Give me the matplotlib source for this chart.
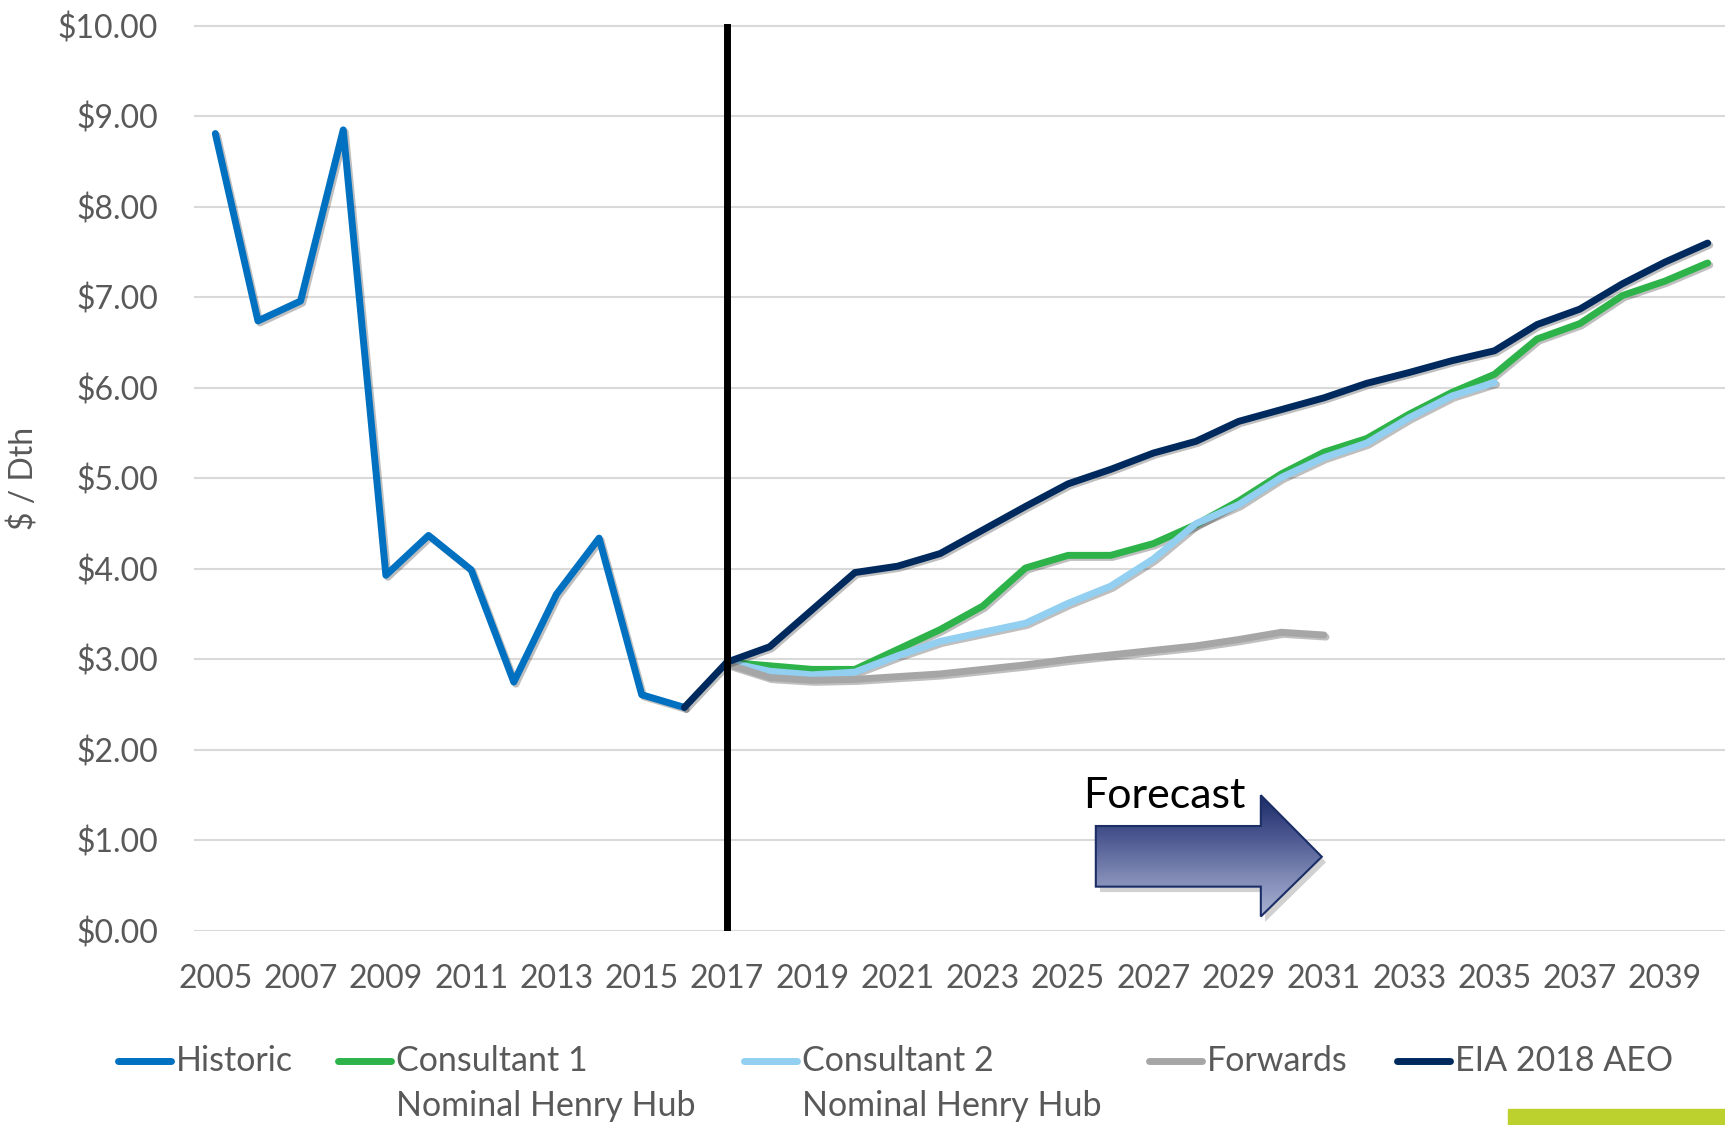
#!/usr/bin/env python
import numpy as np
import matplotlib
matplotlib.use("Agg")
import matplotlib.pyplot as plt
import matplotlib.patheffects as pe
from matplotlib.patches import Polygon, Rectangle
from matplotlib.lines import Line2D

plt.rcParams["font.family"] = ["Lato", "DejaVu Sans"]

# --- data ---
hist_years = list(range(2005, 2017))
historic = [8.81, 6.74, 6.96, 8.85, 3.93, 4.37, 3.99, 2.75, 3.72, 4.34, 2.61, 2.47]

eia_years = list(range(2016, 2041))
eia = [2.47, 2.97, 3.14, 3.55, 3.96, 4.03, 4.17, 4.43, 4.69, 4.94, 5.10, 5.28, 5.41,
       5.63, 5.76, 5.89, 6.05, 6.17, 6.30, 6.41, 6.70, 6.87, 7.15, 7.39, 7.60]

c1_years = list(range(2017, 2041))
consultant1 = [2.97, 2.93, 2.89, 2.89, 3.11, 3.33, 3.59, 4.01, 4.15, 4.15, 4.28, 4.49,
               4.75, 5.05, 5.29, 5.44, 5.71, 5.95, 6.15, 6.54, 6.71, 7.02, 7.18, 7.38]

c2_years = list(range(2017, 2036))
consultant2 = [2.97, 2.87, 2.83, 2.86, 3.04, 3.20, 3.30, 3.40, 3.62, 3.81, 4.11, 4.50,
               4.71, 5.01, 5.23, 5.39, 5.67, 5.91, 6.06]

fwd_years = list(range(2017, 2032))
forwards = [2.95, 2.80, 2.77, 2.78, 2.81, 2.84, 2.89, 2.94, 3.00, 3.05, 3.10, 3.15,
            3.22, 3.30, 3.27]

series = [
    ("Historic", hist_years, historic, "#0070C0"),
    ("Consultant 1\nNominal Henry Hub", c1_years, consultant1, "#2DB34A"),
    ("Consultant 2\nNominal Henry Hub", c2_years, consultant2, "#92CFF0"),
    ("Forwards", fwd_years, forwards, "#A6A6A6"),
    ("EIA 2018 AEO", eia_years, eia, "#002A5E"),
]

yticks = np.arange(0, 11, 1)
xticks = list(range(2005, 2040, 2))
txtcol = "#595959"

W, H = 1725, 1125
fig = plt.figure(figsize=(W / 100, H / 100), dpi=100)
ax = fig.add_axes([194 / W, (H - 931) / H, 1535 / W, 907 / H])

shadow = [pe.SimpleLineShadow(offset=(1.5, -1.5), alpha=0.25, shadow_color="k"), pe.Normal()]
for label, xs, ys, col in series:
    ax.plot(xs, ys, color=col, lw=5, solid_capstyle="round", solid_joinstyle="round",
            path_effects=shadow, zorder=3)

ax.axvline(2017, color="black", lw=5, zorder=4)

ax.set_xlim(2004.5, 2040.5)
ax.set_ylim(0, 10.02)
ax.set_yticks(yticks)
ax.set_yticklabels([f"${v:.2f}" for v in yticks])
ax.set_xticks(xticks)
ax.tick_params(axis="y", length=0, pad=26, labelsize=23, labelcolor=txtcol)
ax.tick_params(axis="x", length=0, pad=24, labelsize=23, labelcolor=txtcol)
ax.grid(axis="y", color="#D9D9D9", lw=1.5, zorder=0)
for s in ax.spines.values():
    s.set_visible(False)
fig.text(24 / W, 1 - 478 / H, "$ / Dth", fontsize=23, color=txtcol, rotation=90,
         ha="center", va="center")

# forecast arrow with gradient fill
arrow = [(2025.65, 1.16), (2029.52, 1.16), (2029.52, 1.50), (2030.95, 0.82),
         (2029.52, 0.16), (2029.52, 0.49), (2025.65, 0.49)]
shadow_pts = [(x + 0.1, y - 0.06) for x, y in arrow]
ax.add_patch(Polygon(shadow_pts, closed=True, facecolor="k", alpha=0.18, edgecolor="none", zorder=5))
poly = Polygon(arrow, closed=True, facecolor="none", edgecolor="#1B2E66", lw=1.5, zorder=7)
ax.add_patch(poly)
grad = np.linspace(0, 1, 256).reshape(-1, 1)
cmap = matplotlib.colors.LinearSegmentedColormap.from_list("arr", ["#AAB3D4", "#7F89B4", "#4A5690", "#1C2B66"])
im = ax.imshow(grad, extent=(2025.65, 2030.95, 1.50, 0.16), cmap=cmap, aspect="auto", zorder=6,
               origin="upper")
im.set_clip_path(poly)
ax.set_xlim(2004.5, 2040.5)
ax.set_ylim(0, 10.02)
ax.text(2025.35, 1.36, "Forecast", fontsize=31, color="black", ha="left", va="baseline", zorder=8)

# legend, drawn by hand so the handle sits on the first text line
leg_x = [118, 338, 744, 1149, 1397]
for (label, xs, ys, col), lx in zip(series, leg_x):
    y1 = 1 - 1061 / H
    fig.add_artist(Line2D([lx / W, (lx + 53) / W], [y1, y1], color=col, lw=5,
                          solid_capstyle="round", transform=fig.transFigure))
    lines = label.split("\n")
    fig.text((lx + 58) / W, y1, lines[0], fontsize=24.5, color=txtcol, va="center", ha="left")
    if len(lines) > 1:
        fig.text((lx + 58) / W, 1 - 1106 / H, lines[1], fontsize=24.5, color=txtcol,
                 va="center", ha="left")

# green corner strip of the slide
fig.add_artist(Rectangle((1508 / W, 0), 217 / W, 16 / H, color="#BCD02E",
                         transform=fig.transFigure))

fig.savefig("out.png", dpi=100)
